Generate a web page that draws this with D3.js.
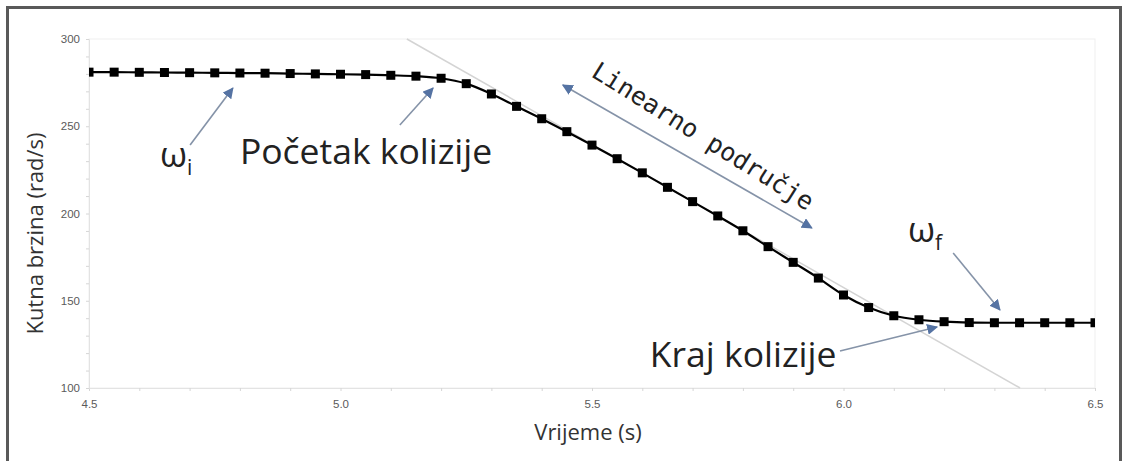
<!DOCTYPE html>
<html lang="en">
<head>
<meta charset="utf-8">
<title>Kutna brzina</title>
<script src="https://cdn.jsdelivr.net/npm/d3@7"></script>
<style>
  body { margin: 0; background: #fff; }
  svg { display: block; }
  .tick text { font-family: "Liberation Sans", Arial, sans-serif; font-size: 11.5px; fill: #5a5a5a; }
  .axis path { stroke: #e3e3e3; }
  .axis line { stroke: #d6d6d6; }
  .title { font-family: "Open Sans", sans-serif; fill: #333; }
  .note { font-family: "Open Sans", sans-serif; fill: #222; }
</style>
</head>
<body>
<svg id="chart"></svg>
<script>
// time samples (s)
var times = [4.50, 4.55, 4.60, 4.65, 4.70, 4.75, 4.80, 4.85, 4.90, 4.95,
             5.00, 5.05, 5.10, 5.15, 5.20, 5.25, 5.30, 5.35, 5.40, 5.45,
             5.50, 5.55, 5.60, 5.65, 5.70, 5.75, 5.80, 5.85, 5.90, 5.95,
             6.00, 6.05, 6.10, 6.15, 6.20, 6.25, 6.30, 6.35, 6.40, 6.45, 6.50];
// angular speed (rad/s)
var omega = [281.0, 281.0, 280.9, 280.8, 280.7, 280.6, 280.5, 280.4, 280.2, 280.0,
             279.8, 279.6, 279.2, 278.7, 277.5, 274.4, 268.5, 261.4, 254.3, 246.9,
             239.2, 231.4, 223.3, 215.0, 206.8, 198.6, 190.1, 181.0, 172.0, 163.0,
             153.3, 146.1, 141.4, 139.1, 138.0, 137.5, 137.4, 137.4, 137.4, 137.4, 137.4];
// linear fit through the slope
var fitT = [5.132, 6.351];
var fitV = [300, 100];

var xTicks = [4.5, 5.0, 5.5, 6.0, 6.5];
var yTicks = [100, 150, 200, 250, 300];

var W = 1127, H = 461;
var margin = {top: 39, right: 32, bottom: 73, left: 89};

var svg = d3.select("#chart").attr("width", W).attr("height", H);

var x = d3.scaleLinear().domain([4.5, 6.5]).range([margin.left, W - margin.right]);
var y = d3.scaleLinear().domain([100, 300]).range([H - margin.bottom, margin.top]);

// outer frame
svg.append("rect")
    .attr("x", 7.5).attr("y", 7.5)
    .attr("width", 1113).attr("height", 462)
    .attr("fill", "none")
    .attr("stroke", "#595959")
    .attr("stroke-width", 3);

// faint plot box
svg.append("rect")
    .attr("x", x(4.5)).attr("y", y(300))
    .attr("width", x(6.5) - x(4.5)).attr("height", y(100) - y(300))
    .attr("fill", "none").attr("stroke", "#efefef");

// minor ticks
svg.append("g")
    .attr("class", "axis")
    .attr("transform", "translate(0," + y(100) + ")")
    .call(d3.axisBottom(x).ticks(20).tickSize(3).tickFormat(""));
svg.append("g")
    .attr("class", "axis")
    .attr("transform", "translate(" + x(4.5) + ",0)")
    .call(d3.axisLeft(y).ticks(20).tickSize(3).tickFormat(""));

// labelled axes
var xAxis = svg.append("g")
    .attr("class", "axis")
    .attr("transform", "translate(0," + y(100) + ")")
    .call(d3.axisBottom(x).tickValues(xTicks).tickSize(0).tickPadding(12).tickFormat(d3.format(".1f")));
xAxis.select(".domain").remove();

var yAxis = svg.append("g")
    .attr("class", "axis")
    .attr("transform", "translate(" + x(4.5) + ",0)")
    .call(d3.axisLeft(y).tickValues(yTicks).tickSize(0).tickPadding(9));
yAxis.select(".domain").remove();

// axis titles
svg.append("text")
    .attr("class", "title")
    .attr("transform", "translate(35," + ((y(100) + y(300)) / 2 + 20) + ") rotate(-90)")
    .attr("text-anchor", "middle")
    .attr("dy", "0.35em")
    .style("font-size", "22px")
    .text("Kutna brzina (rad/s)");

svg.append("text")
    .attr("class", "title")
    .attr("x", x(5.5) - 4)
    .attr("y", 440)
    .attr("text-anchor", "middle")
    .style("font-size", "22px")
    .text("Vrijeme (s)");

// fitted line
svg.append("line")
    .attr("x1", x(fitT[0])).attr("y1", y(fitV[0]))
    .attr("x2", x(fitT[1])).attr("y2", y(fitV[1]))
    .attr("stroke", "#d4d4d4")
    .attr("stroke-width", 1.5);

// data line + markers
svg.append("clipPath").attr("id", "plotclip")
  .append("rect")
    .attr("x", x(4.5)).attr("y", y(300))
    .attr("width", x(6.5) - x(4.5)).attr("height", y(100) - y(300));

var pts = times.map(function(t, i) { return [t, omega[i]]; });

var plot = svg.append("g").attr("clip-path", "url(#plotclip)");

plot.append("path")
    .datum(pts)
    .attr("fill", "none")
    .attr("stroke", "#000")
    .attr("stroke-width", 2.2)
    .attr("d", d3.line()
        .x(function(d) { return x(d[0]); })
        .y(function(d) { return y(d[1]); })
        .curve(d3.curveMonotoneX));

var size = 9;
plot.selectAll("rect.pt")
    .data(pts)
    .enter().append("rect")
    .attr("class", "pt")
    .attr("x", function(d) { return x(d[0]) - size / 2; })
    .attr("y", function(d) { return y(d[1]) - size / 2; })
    .attr("width", size)
    .attr("height", size)
    .attr("fill", "#000");

// annotations
var defs = svg.append("defs");
defs.append("marker")
    .attr("id", "head")
    .attr("viewBox", "0 0 10 10")
    .attr("refX", 9).attr("refY", 5)
    .attr("markerWidth", 11).attr("markerHeight", 11)
    .attr("markerUnits", "userSpaceOnUse")
    .attr("orient", "auto-start-reverse")
  .append("path")
    .attr("d", "M0,0 L10,5 L0,10 Z")
    .attr("fill", "#5573a3");

function arrow(t1, v1, t2, v2, both) {
    var l = svg.append("line")
        .attr("x1", x(t1)).attr("y1", y(v1))
        .attr("x2", x(t2)).attr("y2", y(v2))
        .attr("stroke", "#8593a8")
        .attr("stroke-width", 1.6)
        .attr("marker-end", "url(#head)");
    if (both) l.attr("marker-start", "url(#head)");
}

arrow(4.701, 239.3, 4.786, 271.9);
arrow(5.118, 250.7, 5.184, 271.9);
arrow(5.442, 273.6, 5.937, 191.7, true);
arrow(6.218, 177.4, 6.311, 144.7);
arrow(5.993, 121.2, 6.186, 135.0);

var wi = svg.append("text")
    .attr("class", "note")
    .attr("x", x(4.641)).attr("y", y(226.6))
    .style("font-size", "35px");
wi.append("tspan").text("ω");
wi.append("tspan").attr("dy", 8).style("font-size", "21px").text("i");

svg.append("text")
    .attr("class", "note")
    .attr("x", x(4.800)).attr("y", y(228.4))
    .style("font-size", "35.5px")
    .text("Početak kolizije");

svg.append("text")
    .attr("class", "note")
    .attr("x", x(5.615)).attr("y", y(112.0))
    .style("font-size", "35.5px")
    .text("Kraj kolizije");

var wf = svg.append("text")
    .attr("class", "note")
    .attr("x", x(6.128)).attr("y", y(183.7))
    .style("font-size", "35px");
wf.append("tspan").text("ω");
wf.append("tspan").attr("dy", 8).style("font-size", "21px").text("f");

svg.append("text")
    .attr("transform", "translate(" + x(5.721) + "," + y(244.4) + ") rotate(32)")
    .attr("text-anchor", "middle")
    .attr("dy", "0.35em")
    .style("font-family", "'DejaVu Sans Mono', monospace")
    .style("font-size", "25px")
    .style("fill", "#222")
    .text("Linearno područje");
</script>
</body>
</html>
